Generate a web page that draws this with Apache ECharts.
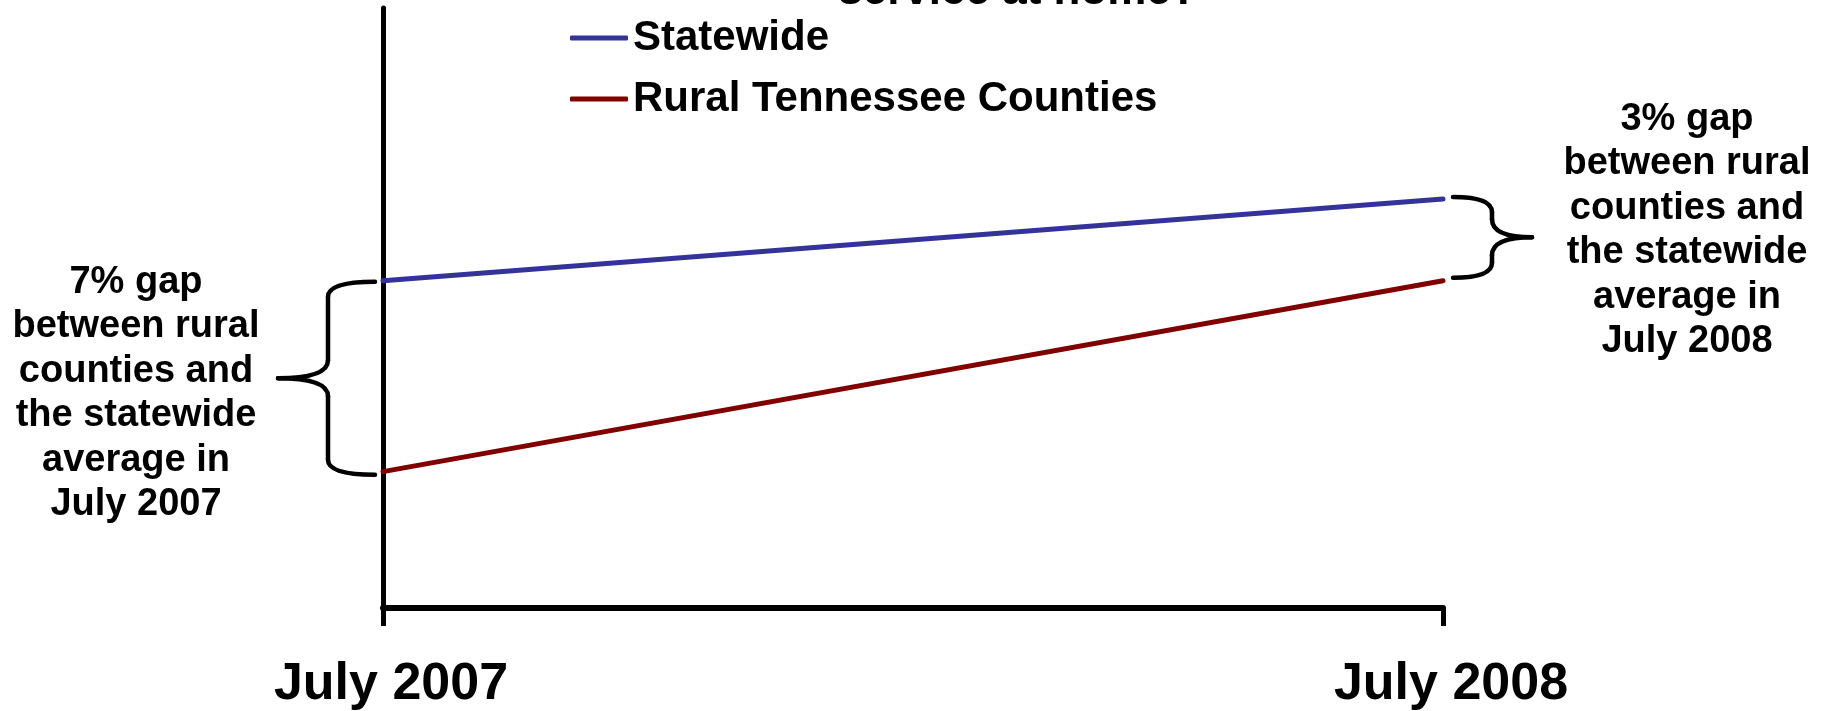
<!DOCTYPE html>
<html><head><meta charset="utf-8">
<script src="https://cdn.jsdelivr.net/npm/echarts@6/dist/echarts.min.js"></script>
<style>html,body{margin:0;padding:0;background:#fff}#c{width:1826px;height:711px}</style>
</head><body><div id="c"></div>
<script>
const categories = ['July 2007', 'July 2008'];
const statewide = [42, 45];
const rural = [35, 42];
const seriesNames = ['Statewide', 'Rural Tennessee Counties'];
const titleText = 'service at home?';
const gapNote2007 = ['7% gap', 'between rural', 'counties and', 'the statewide', 'average in', 'July 2007'];
const gapNote2008 = ['3% gap', 'between rural', 'counties and', 'the statewide', 'average in', 'July 2008'];
const yMin = 30, yMax = 52;

const FONT = 'Arial, "Liberation Sans", Helvetica, sans-serif';
const chart = echarts.init(document.getElementById('c'), null, {renderer: 'canvas'});
chart.setOption({
  animation: false,
  backgroundColor: '#fff',
  grid: {left: 383, right: 383, top: 8, bottom: 101, containLabel: false},
  legend: {
    orient: 'vertical', left: 565, top: 12,
    itemWidth: 58, itemHeight: 5, itemGap: 19, icon: 'roundRect',
    data: seriesNames,
    textStyle: {fontSize: 42, fontWeight: 'bold', color: '#000', fontFamily: FONT, lineHeight: 42}
  },
  xAxis: {
    type: 'category', data: categories, boundaryGap: false,
    axisLine: {show: true, lineStyle: {color: '#000', width: 6}},
    axisTick: {show: true, length: 18, lineStyle: {color: '#000', width: 5}},
    axisLabel: {fontSize: 52, fontWeight: 'bold', color: '#000', fontFamily: FONT, margin: 51, padding: [0, 0, 0, 16]},
    splitLine: {show: false}
  },
  yAxis: {
    type: 'value', min: yMin, max: yMax,
    axisLine: {show: true, lineStyle: {color: '#000', width: 5, cap: 'round'}},
    axisTick: {show: false}, axisLabel: {show: false}, splitLine: {show: false}
  },
  series: [
    {name: seriesNames[0], type: 'line', data: statewide, symbol: 'none', color: '#333399',
     lineStyle: {width: 5, color: '#333399', cap: 'round'}},
    {name: seriesNames[1], type: 'line', data: rural, symbol: 'none', color: '#800000',
     lineStyle: {width: 5, color: '#800000', cap: 'round'}}
  ]
});

const braceStyle = {stroke: '#000', lineWidth: 4.5, fill: null, lineCap: 'round'};
function brace(xe, yTop, yBot, xs, xt) {
  const ym = (yTop + yBot) / 2, r = 15, rm = 18;
  const q = (x1, y1, cx, cy, x2, y2) => ({type: 'bezierCurve', shape: {x1, y1, cpx1: cx, cpy1: cy, x2, y2}, style: braceStyle});
  const l = (x1, y1, x2, y2) => ({type: 'line', shape: {x1, y1, x2, y2}, style: braceStyle});
  return {type: 'group', children: [
    q(xe, yTop, xs, yTop, xs, yTop + r),
    l(xs, yTop + r, xs, ym - rm),
    q(xs, ym - rm, xs, ym, xt, ym),
    q(xt, ym, xs, ym, xs, ym + rm),
    l(xs, ym + rm, xs, yBot - r),
    q(xs, yBot - r, xs, yBot, xe, yBot)
  ]};
}
const a0 = chart.convertToPixel({seriesIndex: 0}, [0, statewide[0]]);
const b0 = chart.convertToPixel({seriesIndex: 1}, [0, rural[0]]);
const a1 = chart.convertToPixel({seriesIndex: 0}, [1, statewide[1]]);
const b1 = chart.convertToPixel({seriesIndex: 1}, [1, rural[1]]);

const txtStyle = {fill: '#000', fontSize: 38, fontWeight: 'bold', fontFamily: FONT, lineHeight: 44.5, textAlign: 'center', textVerticalAlign: 'top'};
chart.setOption({
  graphic: [
    brace(a0[0] - 8, a0[1] + 1, b0[1] + 3, a0[0] - 55, a0[0] - 105),
    brace(a1[0] + 10, a1[1] - 2, b1[1] - 3, a1[0] + 49, a1[0] + 89),
    {type: 'text', x: 136, y: 260, style: Object.assign({text: gapNote2007.join('\n')}, txtStyle)},
    {type: 'text', x: 1687, y: 97, style: Object.assign({text: gapNote2008.join('\n')}, txtStyle)},
    {type: 'text', x: 1018, y: -8, style: {text: titleText, fill: '#000', fontSize: 44, fontWeight: 'bold', fontFamily: FONT, textAlign: 'center', textVerticalAlign: 'middle'}}
  ]
});
</script></body></html>
